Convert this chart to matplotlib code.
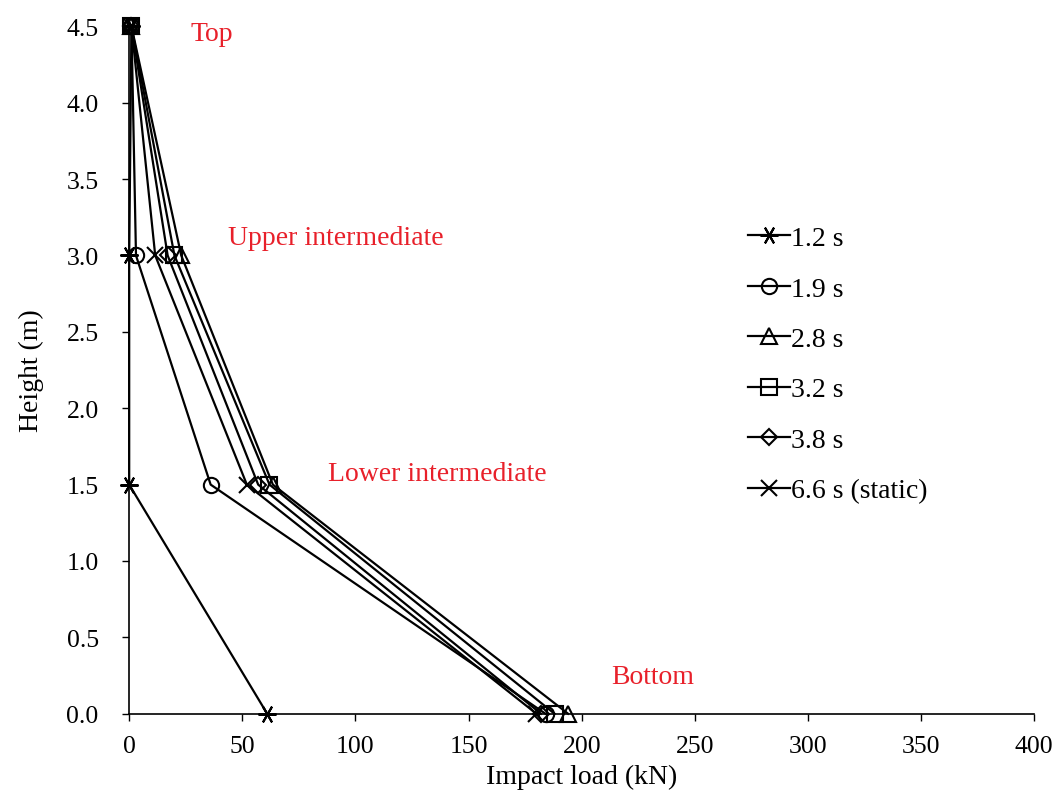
import matplotlib
matplotlib.use("Agg")
import matplotlib.pyplot as plt

plt.rcParams['font.family'] = ['Liberation Serif', 'DejaVu Serif']

heights = [4.5, 3.0, 1.5, 0.0]
labels = ["1.2 s", "1.9 s", "2.8 s", "3.2 s", "3.8 s", "6.6 s (static)"]
load_1_2 = [1.0, 0.0, 0.0, 61.0]
load_1_9 = [1.0, 3.0, 36.0, 184.0]
load_2_8 = [1.0, 23.0, 63.5, 194.0]
load_3_2 = [1.0, 20.0, 62.0, 188.0]
load_3_8 = [1.0, 17.0, 57.0, 182.0]
load_6_6 = [1.0, 11.5, 52.0, 180.0]
series = [load_1_2, load_1_9, load_2_8, load_3_2, load_3_8, load_6_6]
markers = [(6, 2, 30), "o", "^", "s", "D", "x"]
msizes = [13, 11, 12, 11, 8, 12]

zone_labels = ["Top", "Upper intermediate", "Lower intermediate", "Bottom"]
zone_x = [27, 43.8, 88, 213]
zone_y = [4.45, 3.12, 1.575, 0.245]

fig = plt.figure(figsize=(10.59, 8.04), dpi=100)
ax = fig.add_axes([0.122, 0.111, 0.8546, 0.855])

for vals, lab, m, ms in zip(series, labels, markers, msizes):
    filled = isinstance(m, tuple) or m == 'x'
    ax.plot(vals, heights, color='black', lw=1.6, marker=m, markersize=ms,
            markerfacecolor='black' if filled else 'none',
            markeredgecolor='black', markeredgewidth=1.5, label=lab,
            clip_on=False)

for t, x, y in zip(zone_labels, zone_x, zone_y):
    ax.text(x, y, t, color='#e8202a', fontsize=20, ha='left', va='center')

ax.set_xlim(0, 400)
ax.set_ylim(0, 4.5)
ax.set_xticks(range(0, 401, 50))
ax.set_yticks([i * 0.5 for i in range(10)])
ax.set_yticklabels([f"{i*0.5:.1f}" for i in range(10)])
ax.tick_params(labelsize=18.5, direction='out', length=5, width=1)
ax.tick_params(axis='y', pad=17)
ax.tick_params(axis='x', pad=10)
for s in ['top', 'right']:
    ax.spines[s].set_visible(False)
for s in ['left', 'bottom']:
    ax.spines[s].set_linewidth(1.2)
ax.set_xlabel("Impact load (kN)", fontsize=20, labelpad=5)
ax.set_ylabel("Height (m)", fontsize=20, labelpad=16)

ax.legend(loc='upper left', bbox_to_anchor=(0.684, 0.71), frameon=False,
          fontsize=20, handlelength=1.5, handletextpad=0.05, labelspacing=0.9,
          borderpad=0, borderaxespad=0)

fig.savefig("out.png", dpi=100)
